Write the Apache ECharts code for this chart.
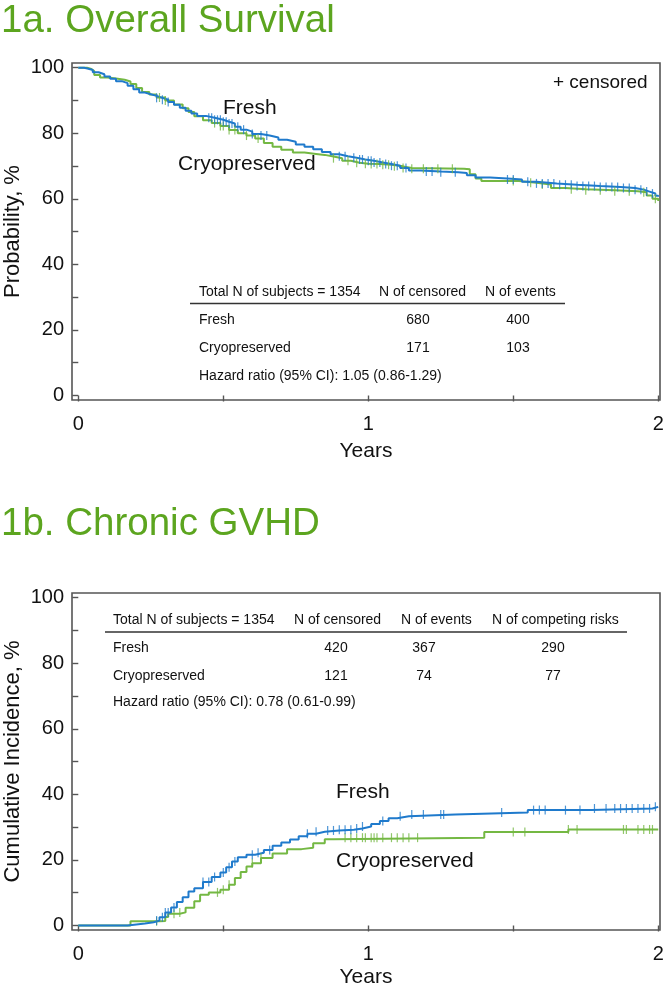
<!DOCTYPE html>
<html><head><meta charset="utf-8">
<script src="https://cdn.jsdelivr.net/npm/echarts@6/dist/echarts.min.js"></script>
<style>html,body{margin:0;padding:0;background:#fff}#c{width:666px;height:986px}</style>
</head><body><div id="c"></div>
<script>
// ---------- DATA ----------
// 1a. Overall survival (years, %)
const osFreshT = [0,0.02,0.035,0.05,0.07,0.09,0.11,0.13,0.15,0.17,0.19,0.21,0.23,0.25,0.27,0.29,0.31,0.33,0.35,0.37,0.39,0.41,0.44,0.47,0.50,0.52,0.54,0.56,0.58,0.60,0.63,0.66,0.69,0.72,0.75,0.78,0.81,0.84,0.87,0.90,0.93,0.96,0.99,1.02,1.05,1.08,1.11,1.14,1.18,1.25,1.31,1.34,1.37,1.42,1.48,1.53,1.58,1.65,1.72,1.80,1.87,1.92,1.95,1.97,1.99,2.0];
const osFreshS = [100,99.7,99.3,98.6,98.0,97.3,96.6,95.9,95.3,94.5,93.4,92.4,91.9,91.4,90.8,90.2,89.5,88.7,87.8,86.9,86.0,85.3,84.7,84.1,83.5,83.0,82.0,81.1,80.5,79.8,79.3,78.7,78.0,77.4,76.6,75.9,75.1,74.3,73.6,73.0,72.5,72.0,71.6,71.1,70.6,70.1,69.4,68.6,68.3,68.1,67.9,67.2,66.5,66.2,65.9,65.2,64.7,64.3,63.9,63.6,63.3,62.8,62.2,61.6,60.9,60.6];
const osCryoT = [0,0.03,0.045,0.055,0.075,0.10,0.13,0.16,0.18,0.20,0.22,0.245,0.27,0.30,0.33,0.36,0.38,0.40,0.43,0.46,0.49,0.52,0.55,0.58,0.61,0.64,0.67,0.70,0.74,0.78,0.82,0.85,0.88,0.91,0.94,0.97,1.00,1.04,1.08,1.12,1.15,1.33,1.35,1.37,1.39,1.52,1.58,1.63,1.68,1.75,1.85,1.93,1.96,1.98,2.0];
const osCryoS = [100,99.6,99.0,97.8,97.0,96.7,96.3,95.8,95.0,93.8,92.6,91.8,90.9,90.0,88.8,87.6,86.5,85.2,84.0,83.1,82.2,81.0,80.0,79.3,78.4,77.0,75.9,75.0,74.1,73.7,73.4,72.9,72.4,71.6,71.0,70.7,70.6,70.4,69.9,69.4,69.2,69.0,67.5,66.2,65.4,64.9,64.4,63.3,62.9,62.6,62.3,62.0,61.0,60.0,59.3];
const osFreshCens = [0.27,0.29,0.31,0.45,0.46,0.47,0.48,0.49,0.5,0.51,0.52,0.53,0.55,0.57,0.6,0.63,0.65,0.9,0.92,0.95,0.97,0.98,1.0,1.01,1.02,1.04,1.06,1.08,1.1,1.13,1.2,1.22,1.25,1.3,1.48,1.5,1.55,1.58,1.6,1.62,1.64,1.66,1.68,1.7,1.72,1.74,1.76,1.78,1.8,1.82,1.84,1.86,1.88,1.9,1.92,1.94,1.96,1.98];
const osCryoCens = [0.28,0.3,0.47,0.49,0.5,0.52,0.54,0.58,0.62,0.88,0.93,0.96,0.99,1.01,1.03,1.05,1.07,1.09,1.12,1.15,1.19,1.24,1.29,1.5,1.56,1.6,1.7,1.75,1.8,1.85,1.9,1.95,1.99];

// 1b. Chronic GVHD cumulative incidence (years, %)
const gvFreshT = [0,0.15,0.17,0.2,0.23,0.26,0.28,0.30,0.32,0.34,0.36,0.38,0.40,0.43,0.46,0.49,0.51,0.53,0.55,0.58,0.61,0.64,0.67,0.70,0.73,0.76,0.79,0.82,0.85,0.90,0.95,0.98,1.01,1.04,1.07,1.10,1.14,1.30,1.55,1.77,1.98,2.0];
const gvFreshC = [0,0,0.3,0.6,1.0,1.5,2.5,4.0,5.5,7.2,8.6,10.4,11.4,13.3,14.8,16.2,17.8,19.5,20.8,21.6,22.2,23.0,24.3,25.3,26.2,27.2,28.0,28.6,29.0,29.2,29.6,30.2,31.0,31.9,32.7,33.3,33.9,34.5,35.2,35.7,36.2,36.2];
const gvCryoT = [0,0.17,0.18,0.28,0.30,0.31,0.35,0.37,0.40,0.42,0.45,0.49,0.52,0.54,0.56,0.58,0.60,0.63,0.67,0.72,0.77,0.81,0.85,0.88,1.40,1.69,2.0];
const gvCryoC = [0,0,1.3,1.4,2.6,3.6,4.0,5.4,7.4,9.4,10.1,10.9,12.4,14.5,16.3,18.0,19.0,20.6,22.0,23.3,23.7,25.1,26.3,26.8,28.5,29.3,29.3];
const gvFreshCens = [0.27,0.29,0.3,0.31,0.33,0.43,0.45,0.47,0.5,0.52,0.54,0.6,0.62,0.66,0.79,0.82,0.86,0.88,0.9,0.92,0.94,0.96,0.98,1.05,1.11,1.15,1.19,1.25,1.26,1.46,1.57,1.59,1.61,1.68,1.73,1.78,1.82,1.85,1.87,1.89,1.91,1.93,1.95,1.97,1.99];
const gvCryoCens = [0.27,0.33,0.35,0.48,0.5,0.52,0.6,0.63,0.92,0.94,0.96,0.98,0.99,1.01,1.02,1.03,1.05,1.08,1.1,1.12,1.14,1.17,1.5,1.54,1.69,1.72,1.88,1.89,1.93,1.95,1.97,1.98];

// tick values / labels
const xTicks = [0,0.5,1,1.5,2];
const xLabels = [0,1,2];
const yTicks = [0,10,20,30,40,50,60,70,80,90,100];
const yLabels = [0,20,40,60,80,100];

// table texts
const tab1Header = ['Total N of subjects = 1354','N of censored','N of events'];
const tab1Rows = [['Fresh','680','400'],['Cryopreserved','171','103']];
const tab1Note = 'Hazard ratio (95% CI): 1.05 (0.86-1.29)';
const tab2Header = ['Total N of subjects = 1354','N of censored','N of events','N of competing risks'];
const tab2Rows = [['Fresh','420','367','290'],['Cryopreserved','121','74','77']];
const tab2Note = 'Hazard ratio (95% CI): 0.78 (0.61-0.99)';

// ---------- STYLE / LAYOUT ----------
const FONT = "'Liberation Sans', Arial, Helvetica, sans-serif";
const BLUE = '#1f7acc', GREEN = '#74b843', TITLE = '#5ca51f', AX = '#555';
const G1TOP = 63, G2TOP = 593, GH = 337;
const zip = (a,b) => a.map((v,i)=>[v,b[i]]);
const stepAt = (ts, vs, t) => { let v = vs[0]; for (let i=0;i<ts.length;i++) if (ts[i] <= t) v = vs[i]; return v; };
const cens = (c, ts, vs) => c.map(t => [t, stepAt(ts, vs, t)]);

function xAx(gi, gap){
  return {type:'value', gridIndex:gi, min:-0.0217, max:2.006,
    axisLine:{show:false}, splitLine:{show:false},
    axisTick:{show:true, customValues:xTicks, length:6, lineStyle:{color:AX,width:1.4}},
    axisLabel:{customValues:xLabels, fontSize:20, color:'#111', fontFamily:FONT, margin:14},
    name:'Years', nameLocation:'middle', nameGap:gap, nameMoveOverlap:false,
    nameTextStyle:{fontSize:21, color:'#111', fontFamily:FONT}};
}
function yAx(gi, name){
  return {type:'value', gridIndex:gi, min:-1.37, max:101.43,
    axisLine:{show:false}, splitLine:{show:false},
    axisTick:{show:true, customValues:yTicks, length:6, lineStyle:{color:AX,width:1.4}},
    axisLabel:{customValues:yLabels, fontSize:20, color:'#111', fontFamily:FONT, margin:8},
    name:name, nameLocation:'middle', nameGap:48, nameRotate:90, nameMoveOverlap:false,
    nameTextStyle:{fontSize:22, color:'#111', fontFamily:FONT}};
}
function lineS(gi, data, color){
  return {type:'line', xAxisIndex:gi, yAxisIndex:gi, data:data, step:'end', showSymbol:false,
    lineStyle:{color:color, width:2}, itemStyle:{color:color}, z:3, silent:true};
}
function censS(gi, data, color){
  return {type:'scatter', xAxisIndex:gi, yAxisIndex:gi, data:data, symbol:'rect', symbolSize:[1.2,9],
    itemStyle:{color:color, opacity:0.8}, z:4, silent:true};
}

const gr = [];
function txt(x, y, s, size, align, color){
  gr.push({type:'text', x:x, y:y, silent:true,
    style:{text:s, fill:color||'#111', font:(size)+'px '+FONT, textAlign:align||'left', textVerticalAlign:'middle'}});
}
function hline(x1, x2, y){
  gr.push({type:'line', silent:true, shape:{x1:x1,y1:y,x2:x2,y2:y}, style:{stroke:'#333', lineWidth:1.3}});
}

// titles
txt(1, 21, '1a. Overall Survival', 38.5, 'left', TITLE);
txt(1, 524, '1b. Chronic GVHD', 38.5, 'left', TITLE);
// chart 1 annotations
txt(223, 108, 'Fresh', 21);
txt(178, 164, 'Cryopreserved', 21);
txt(553, 83, '+ censored', 19);
// table 1
(function(){
  const hy = 292, xs = [199, 379, 485], cx = [418, 518];
  txt(xs[0], hy, tab1Header[0], 14); txt(xs[1], hy, tab1Header[1], 14); txt(xs[2], hy, tab1Header[2], 14);
  hline(190, 565, hy+11.5);
  tab1Rows.forEach((r,i)=>{ const y = hy+28+28*i; txt(xs[0], y, r[0], 14); txt(cx[0], y, r[1], 14, 'center'); txt(cx[1], y, r[2], 14, 'center'); });
  txt(xs[0], hy+84, tab1Note, 14);
})();
// table 2
(function(){
  const hy = 620, xs = [113, 294, 401, 492], cx = [336, 424, 553];
  tab2Header.forEach((h,i)=>txt(xs[i], hy, h, 14));
  hline(105, 627, hy+12);
  tab2Rows.forEach((r,i)=>{ const y = hy+28+28*i; txt(xs[0], y, r[0], 14); r.slice(1).forEach((v,j)=>txt(cx[j], y, v, 14, 'center')); });
  txt(xs[0], hy+82, tab2Note, 14);
})();
// chart 2 annotations
txt(336, 792, 'Fresh', 21);
txt(336, 861, 'Cryopreserved', 21);

const chart = echarts.init(document.getElementById('c'), null, {renderer:'canvas'});
chart.setOption({
  animation:false,
  backgroundColor:'#fff',
  grid:[
    {left:72, top:G1TOP, width:588, height:GH, show:true, borderColor:'#555', borderWidth:1.6, backgroundColor:'transparent', containLabel:false, outerBoundsMode:'none'},
    {left:72, top:G2TOP, width:588, height:GH, show:true, borderColor:'#555', borderWidth:1.6, backgroundColor:'transparent', containLabel:false, outerBoundsMode:'none'}
  ],
  xAxis:[xAx(0, 41), xAx(1, 37)],
  yAxis:[yAx(0,'Probability, %'), yAx(1,'Cumulative Incidence, %')],
  series:[
    lineS(0, zip(osCryoT, osCryoS), GREEN),
    lineS(0, zip(osFreshT, osFreshS), BLUE),
    censS(0, cens(osCryoCens, osCryoT, osCryoS), GREEN),
    censS(0, cens(osFreshCens, osFreshT, osFreshS), BLUE),
    lineS(1, zip(gvCryoT, gvCryoC), GREEN),
    lineS(1, zip(gvFreshT, gvFreshC), BLUE),
    censS(1, cens(gvCryoCens, gvCryoT, gvCryoC), GREEN),
    censS(1, cens(gvFreshCens, gvFreshT, gvFreshC), BLUE)
  ],
  graphic: gr
});
</script></body></html>
